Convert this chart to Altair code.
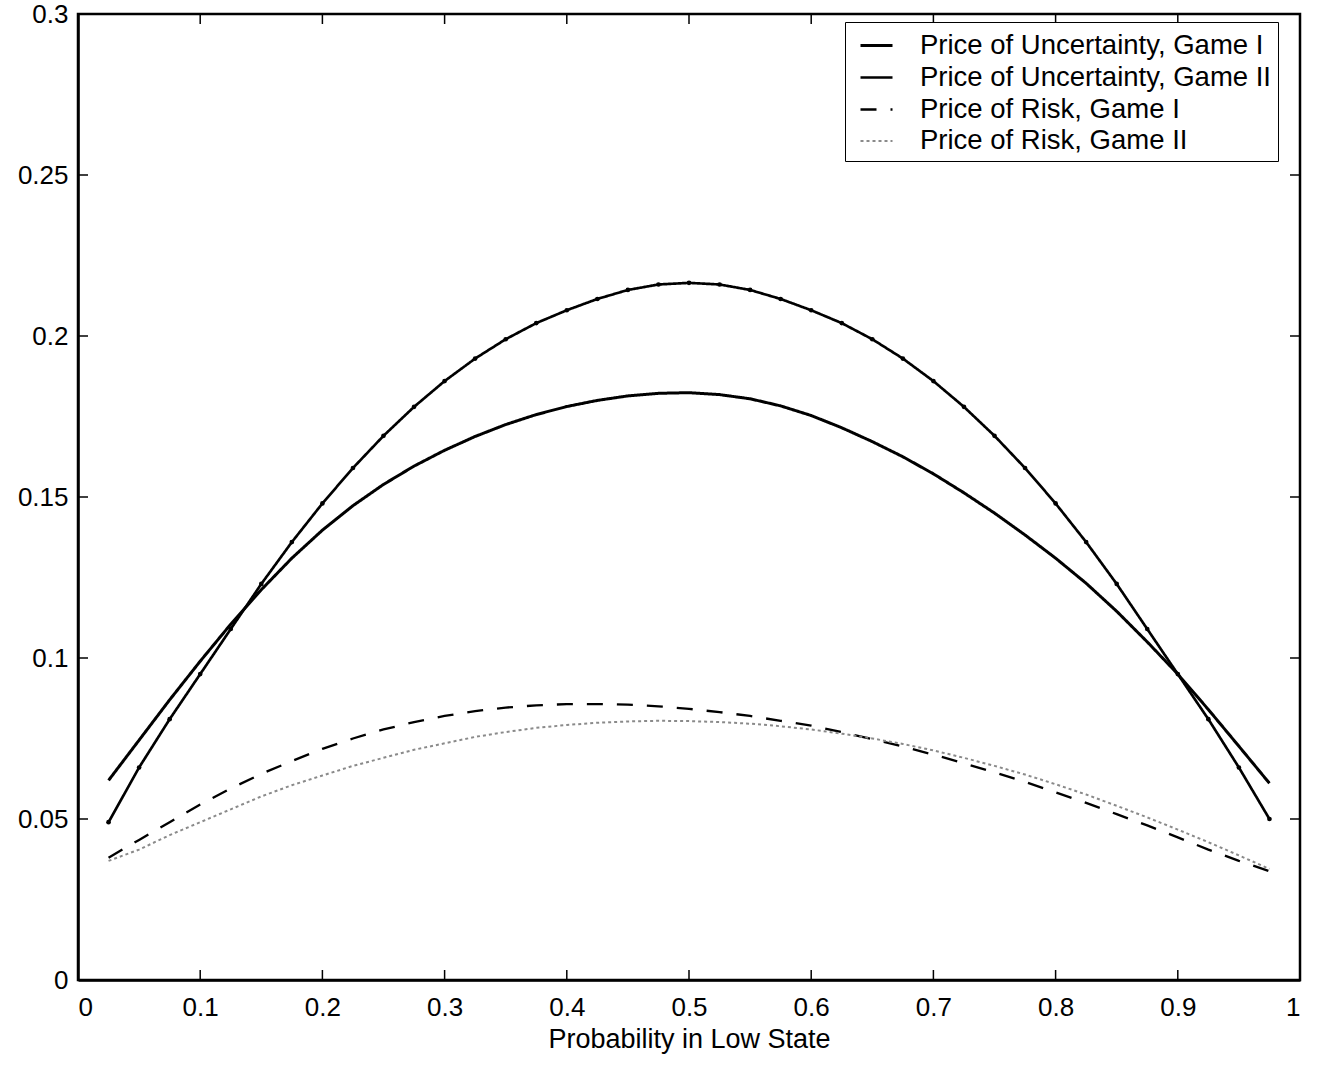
import altair as alt
import pandas as pd

# x grid: probability in low state
prob = [0.025, 0.05, 0.075, 0.1, 0.125, 0.15, 0.175, 0.2, 0.225, 0.25,
        0.275, 0.3, 0.325, 0.35, 0.375, 0.4, 0.425, 0.45, 0.475, 0.5,
        0.525, 0.55, 0.575, 0.6, 0.625, 0.65, 0.675, 0.7, 0.725, 0.75,
        0.775, 0.8, 0.825, 0.85, 0.875, 0.9, 0.925, 0.95, 0.975]

unc_game1 = [0.062, 0.0745, 0.0870, 0.0990, 0.1105, 0.1212, 0.1310, 0.1397, 0.1473, 0.1539,
             0.1596, 0.1645, 0.1688, 0.1725, 0.1756, 0.1781, 0.1800, 0.1814, 0.1822, 0.1824,
             0.1818, 0.1805, 0.1783, 0.1753, 0.1715, 0.1672, 0.1625, 0.1572, 0.1513, 0.1450,
             0.1382, 0.1310, 0.1232, 0.1145, 0.1050, 0.0950, 0.0840, 0.0726, 0.0611]

unc_game2 = [0.049, 0.066, 0.081, 0.095, 0.109, 0.123, 0.136, 0.148, 0.159, 0.169,
             0.178, 0.186, 0.193, 0.199, 0.204, 0.208, 0.2115, 0.2143, 0.2160, 0.2165,
             0.2160, 0.2143, 0.2115, 0.208, 0.204, 0.199, 0.193, 0.186, 0.178, 0.169,
             0.159, 0.148, 0.136, 0.123, 0.109, 0.095, 0.081, 0.066, 0.050]

risk_game1 = [0.038, 0.0435, 0.0490, 0.0545, 0.0595, 0.0640, 0.0680, 0.0718, 0.0750, 0.0778,
              0.0801, 0.0820, 0.0835, 0.0846, 0.0853, 0.0857, 0.0857, 0.0855, 0.0850, 0.0842,
              0.0832, 0.0820, 0.0805, 0.0790, 0.0770, 0.0748, 0.0725, 0.0700, 0.0673, 0.0645,
              0.0615, 0.0583, 0.0550, 0.0515, 0.0480, 0.0443, 0.0405, 0.0370, 0.0338]

risk_game2 = [0.037, 0.0405, 0.045, 0.049, 0.053, 0.057, 0.0605, 0.0635, 0.0665, 0.069,
              0.0715, 0.0735, 0.0755, 0.0770, 0.0783, 0.0792, 0.0799, 0.0803, 0.0805, 0.0804,
              0.0801, 0.0796, 0.0788, 0.0778, 0.0765, 0.0750, 0.0733, 0.0713, 0.0690, 0.0665,
              0.0638, 0.0608, 0.0576, 0.0541, 0.0505, 0.0467, 0.0428, 0.0387, 0.0345]

series_names = ["Price of Uncertainty, Game I", "Price of Uncertainty, Game II",
                "Price of Risk, Game I", "Price of Risk, Game II"]
series_values = [unc_game1, unc_game2, risk_game1, risk_game2]

x_ticks = [0, 0.1, 0.2, 0.3, 0.4, 0.5, 0.6, 0.7, 0.8, 0.9, 1.0]
y_ticks = [0, 0.05, 0.1, 0.15, 0.2, 0.25, 0.3]

rows = []
for name, vals in zip(series_names, series_values):
    for i, (p, v) in enumerate(zip(prob, vals)):
        rows.append({"p": p, "v": v, "series": name, "order": i})
df = pd.DataFrame(rows)

W, H = 1222, 966
FONT = "Liberation Sans"

xscale = alt.Scale(domain=[0, 1], nice=False, zero=False)
yscale = alt.Scale(domain=[0, 0.3], nice=False)

lines = alt.Chart(df).mark_line(clip=True).encode(
    x=alt.X("p:Q", scale=xscale,
            axis=alt.Axis(values=x_ticks, format=".1~f", ticks=False, tickSize=0,
                          labelPadding=14, grid=False, title="Probability in Low State",
                          titleY=67, titleBaseline="alphabetic")),
    y=alt.Y("v:Q", scale=yscale,
            axis=alt.Axis(values=y_ticks, format=".2~f", ticks=False, tickSize=0,
                          labelPadding=10, grid=False, title=None)),
    color=alt.Color("series:N",
                    scale=alt.Scale(domain=series_names,
                                    range=["#000000", "#000000", "#000000", "#8a8a8a"]),
                    legend=alt.Legend(title=None)),
    strokeDash=alt.StrokeDash("series:N",
                              scale=alt.Scale(domain=series_names,
                                              range=[[1, 0], [1, 0], [16, 14], [3, 3]]),
                              legend=alt.Legend(title=None)),
    strokeWidth=alt.StrokeWidth("series:N",
                                scale=alt.Scale(domain=series_names,
                                                range=[3, 2, 2.5, 2]),
                                legend=alt.Legend(title=None)),
    order="order:Q",
)

points = alt.Chart(df[df["series"] == series_names[1]]).mark_circle(
    color="black", size=22, opacity=1).encode(
    x=alt.X("p:Q", scale=xscale),
    y=alt.Y("v:Q", scale=yscale),
)

tdfx = pd.DataFrame({"t": x_ticks})
tdfy = pd.DataFrame({"t": y_ticks})

xt_bottom = alt.Chart(tdfx).mark_rule(color="black", strokeWidth=1.5).encode(
    x=alt.X("t:Q", scale=xscale), y=alt.value(H), y2=alt.value(H - 10))
xt_top = alt.Chart(tdfx).mark_rule(color="black", strokeWidth=1.5).encode(
    x=alt.X("t:Q", scale=xscale), y=alt.value(0), y2=alt.value(10))
yt_left = alt.Chart(tdfy).mark_rule(color="black", strokeWidth=1.5).encode(
    y=alt.Y("t:Q", scale=yscale), x=alt.value(0), x2=alt.value(10))
yt_right = alt.Chart(tdfy).mark_rule(color="black", strokeWidth=1.5).encode(
    y=alt.Y("t:Q", scale=yscale), x=alt.value(W), x2=alt.value(W - 10))

chart = alt.layer(lines, points, xt_bottom, xt_top, yt_left, yt_right).properties(
    width=W, height=H,
    autosize=alt.AutoSizeParams(type="none"),
    padding={"left": 78, "top": 14, "right": 20, "bottom": 91},
    background="white",
).configure_view(
    stroke="black", strokeWidth=2.5
).configure_axis(
    domainColor="black", domainWidth=2.5,
    labelFont=FONT, labelFontSize=26, labelColor="black",
    titleFont=FONT, titleFontSize=27, titleColor="black", titleFontWeight="normal",
).configure_legend(
    orient="none", legendX=767, legendY=8,
    strokeColor="black", fillColor="white", padding=6,
    labelFont=FONT, labelFontSize=27.5, labelColor="black", labelLimit=0,
    symbolType="stroke", symbolSize=1024, symbolStrokeColor="black",
    symbolOffset=8, labelOffset=26, rowPadding=1,
)

chart.save("out.html", embed_options={"renderer": "svg", "actions": False})
